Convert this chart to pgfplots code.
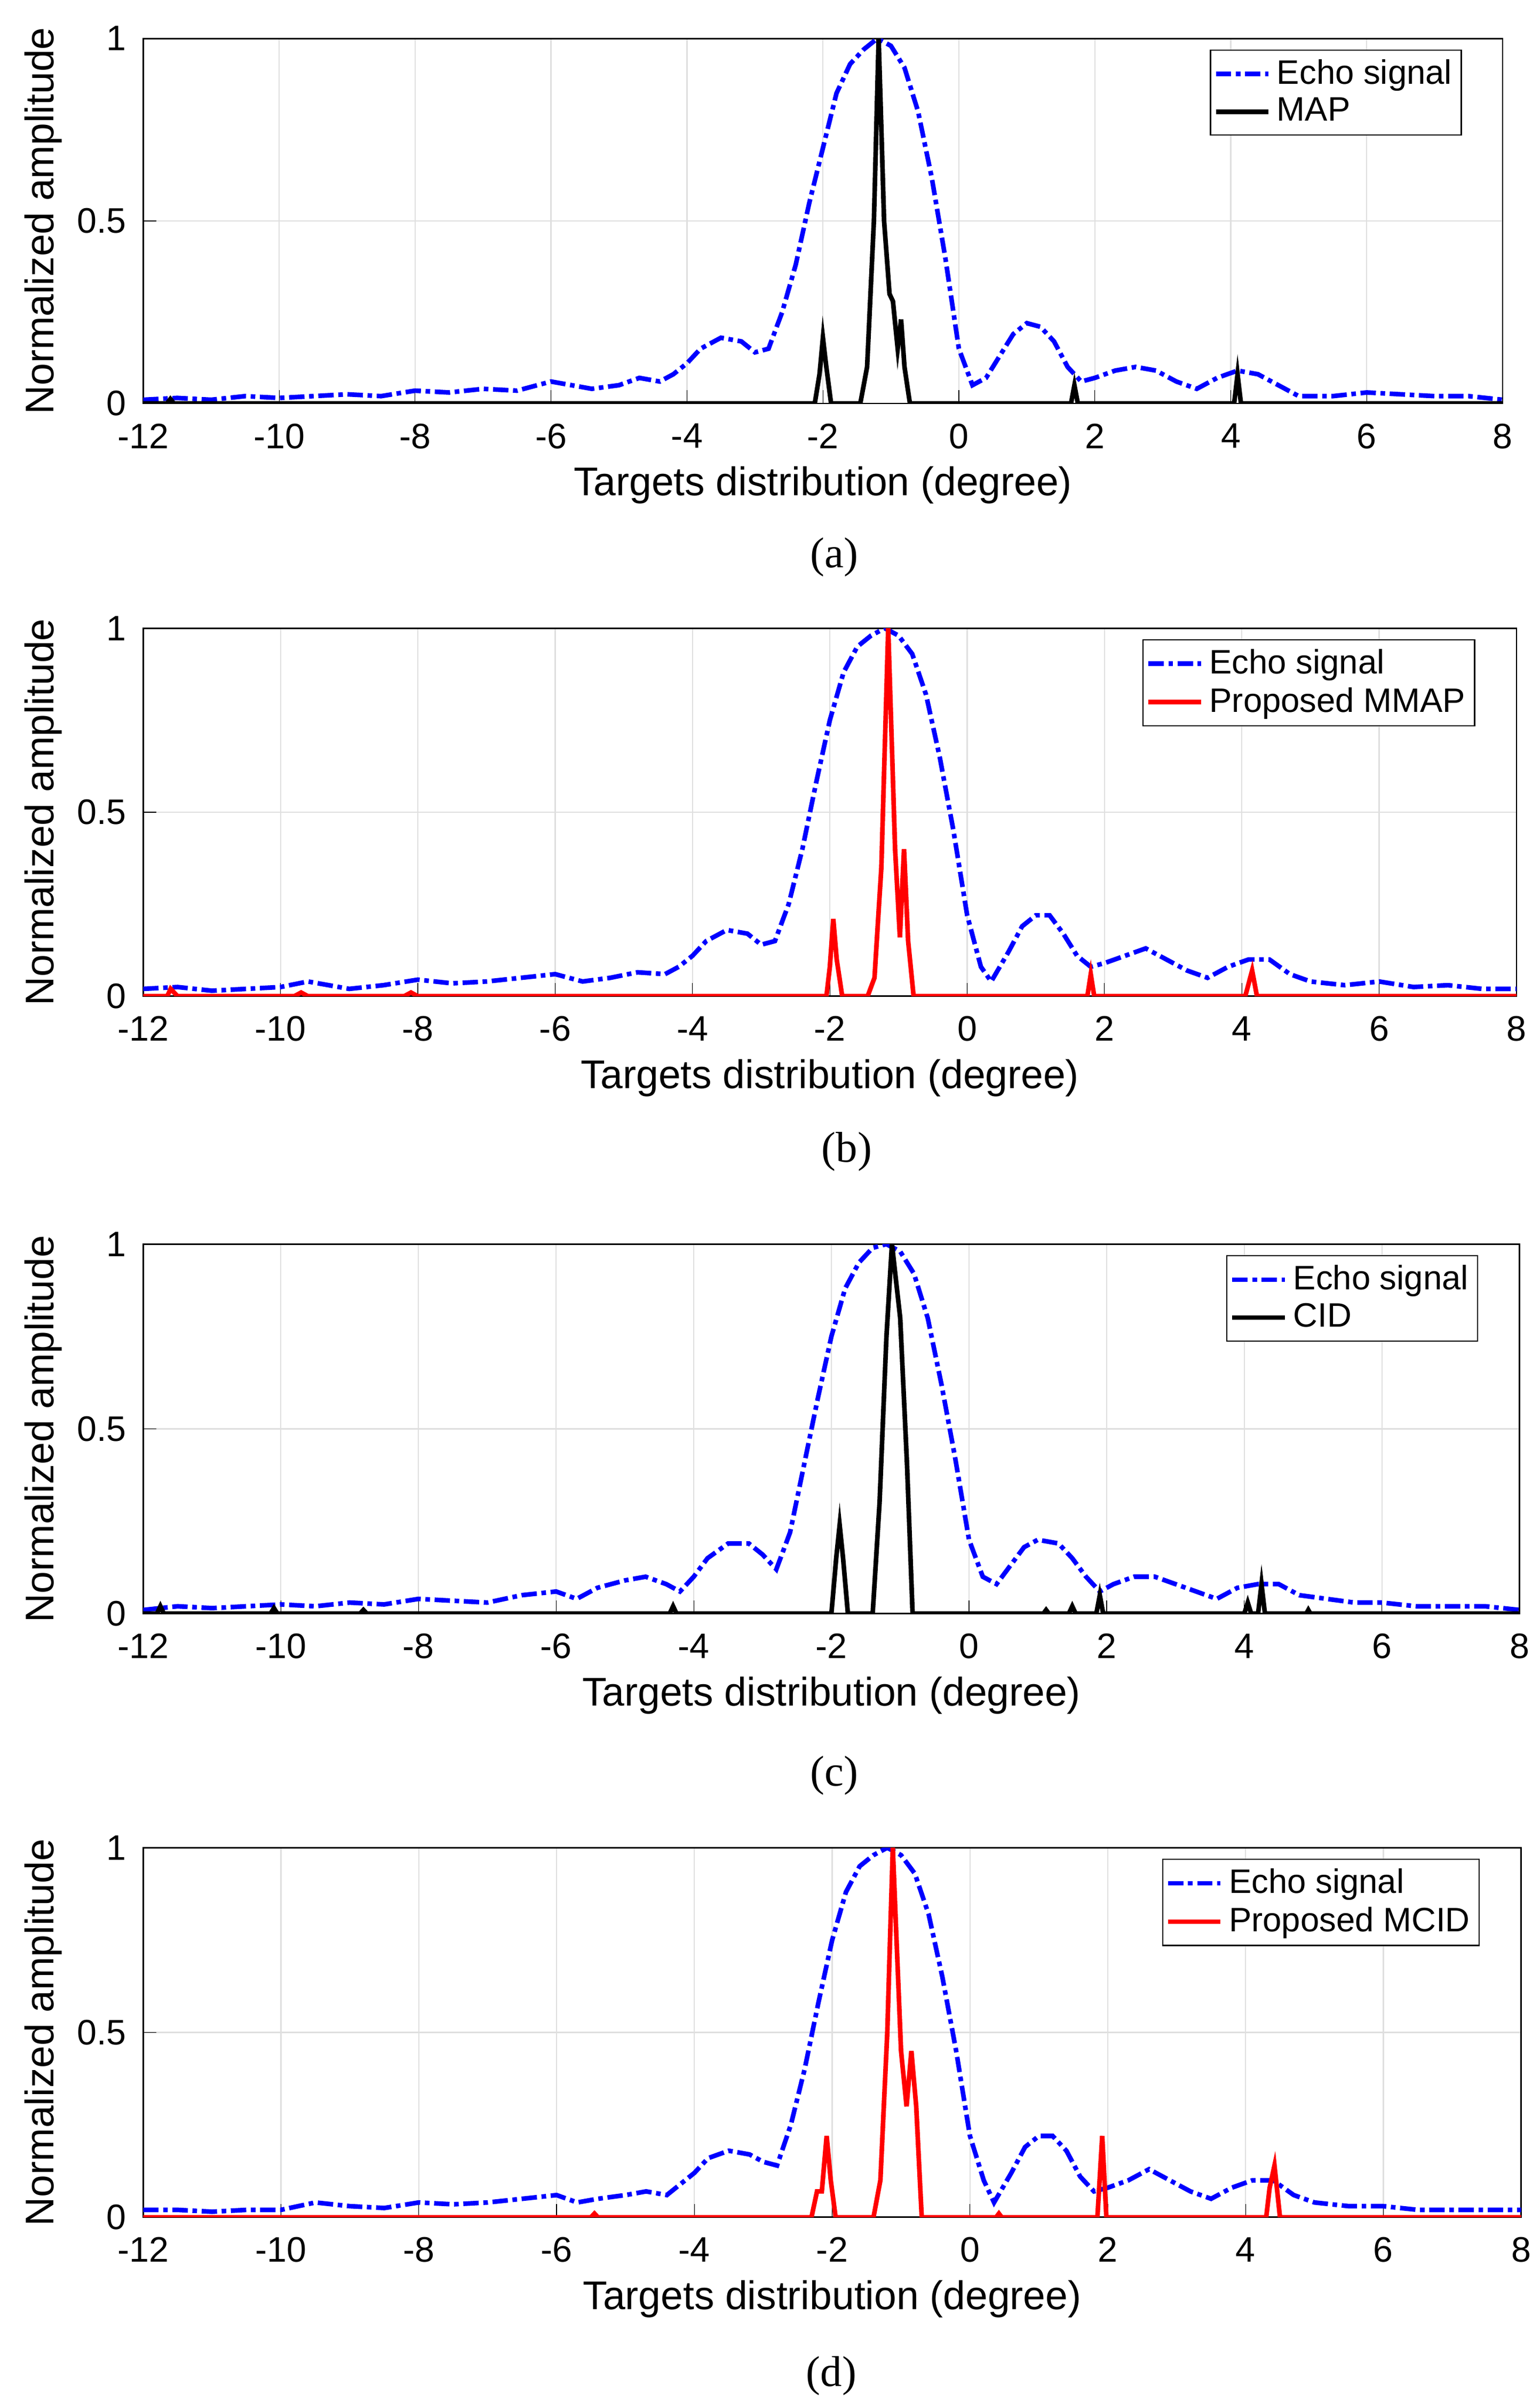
\documentclass[border=0pt]{standalone}
\usepackage{pgfplots}
\pgfplotsset{compat=1.18}
\usepackage{fontspec}
\setmainfont{Liberation Sans}
\newfontfamily\capfont{Liberation Serif}
\definecolor{eb}{rgb}{0,0,1}
\definecolor{rr}{rgb}{1,0,0}
\pgfplotsset{
 panel/.style={scale only axis, xmin=-12,xmax=8,ymin=0,ymax=1,
  xtick={-12,-10,...,8}, ytick={0,0.5,1}, grid=major,
  major grid style={gray!25,line width=0.4pt},
  tick style={black}, tick align=inside, tick pos=left,
  /pgf/number format/assume math mode=true,
  ticklabel style={font=\fontsize{11.5}{13}\selectfont},
  xticklabel style={yshift=-3pt}, yticklabel style={xshift=-2pt},
  label style={font=\fontsize{13}{15}\selectfont},
  xlabel={Targets distribution (degree)}, ylabel={Normalized amplitude},
  xlabel style={yshift=1pt}, ylabel style={yshift=-2pt},
  legend pos=north east, legend cell align=left,
  legend style={font=\fontsize{11}{12}\selectfont, inner sep=1pt, row sep=-1pt},
  axis line style={black, line width=0.5pt}},
 echo/.style={eb, line width=1.5pt, dash pattern=on 5pt off 1.5pt on 1.5pt off 1.5pt},
 res/.style={line width=1.5pt}
}
\pgfplotstableread{
x y
-12 0.01
-11.5 0.015
-11 0.01
-10.5 0.02
-10 0.015
-9.5 0.02
-9 0.025
-8.5 0.02
-8 0.035
-7.5 0.03
-7 0.04
-6.5 0.035
-6 0.06
-5.7 0.05
-5.4 0.04
-5 0.05
-4.7 0.07
-4.4 0.06
-4.2 0.08
-4 0.11
-3.8 0.15
-3.5 0.18
-3.2 0.17
-3 0.14
-2.8 0.15
-2.6 0.25
-2.4 0.38
-2.2 0.55
-2 0.7
-1.8 0.85
-1.6 0.93
-1.4 0.97
-1.2 1.0
-1.0 0.98
-0.8 0.92
-0.6 0.8
-0.4 0.62
-0.2 0.4
0 0.15
0.2 0.05
0.4 0.07
0.6 0.13
0.8 0.19
1.0 0.22
1.2 0.21
1.4 0.17
1.6 0.1
1.8 0.06
2.0 0.07
2.3 0.09
2.6 0.10
2.9 0.09
3.2 0.06
3.5 0.04
3.8 0.07
4.1 0.09
4.4 0.08
4.7 0.05
5 0.02
5.5 0.02
6 0.03
6.5 0.025
7 0.02
7.5 0.02
8 0.01
}\echoA
\begin{document}
\begin{tikzpicture}
\useasboundingbox (0,0) rectangle (500pt,-780pt);
% (a)
\begin{axis}[panel, at={(46.5pt,-12.5pt)}, anchor=north west, width=441.5pt, height=118.5pt]
\addplot[echo] table {\echoA};
\addplot[res, black] coordinates {(-12,0)(-11.65,0)(-11.6,0.012)(-11.55,0)(-2.12,0)(-2.05,0.08)(-2,0.18)(-1.95,0.1)(-1.88,0)(-1.45,0)(-1.35,0.1)(-1.25,0.5)(-1.18,1.0)(-1.1,0.5)(-1.02,0.3)(-0.97,0.28)(-0.9,0.15)(-0.85,0.23)(-0.8,0.1)(-0.72,0)(1.65,0)(1.7,0.05)(1.75,0)(4.05,0)(4.1,0.08)(4.15,0)(8,0)};
\legend{Echo signal, MAP}
\end{axis}
\node[font=\capfont\fontsize{14}{16}\selectfont] at (271pt,-181pt) {(a)};
% (b)
\begin{axis}[panel, at={(46.5pt,-204pt)}, anchor=north west, width=446pt, height=119.5pt]
\addplot[echo] coordinates {(-12,0.02)(-11.5,0.025)(-11,0.015)(-10.5,0.02)(-10,0.025)(-9.6,0.04)(-9,0.02)(-8.5,0.03)(-8,0.045)(-7.5,0.035)(-7,0.04)(-6.5,0.05)(-6,0.06)(-5.6,0.04)(-5.2,0.05)(-4.8,0.065)(-4.4,0.06)(-4.2,0.08)(-4,0.11)(-3.8,0.15)(-3.5,0.18)(-3.2,0.17)(-3,0.14)(-2.8,0.15)(-2.6,0.25)(-2.4,0.4)(-2.2,0.58)(-2,0.75)(-1.8,0.88)(-1.6,0.95)(-1.4,0.98)(-1.2,1.0)(-1.0,0.98)(-0.8,0.93)(-0.6,0.82)(-0.4,0.65)(-0.2,0.45)(0,0.22)(0.2,0.08)(0.35,0.04)(0.6,0.12)(0.8,0.19)(1.0,0.22)(1.2,0.22)(1.4,0.17)(1.6,0.11)(1.8,0.08)(2.0,0.09)(2.3,0.11)(2.6,0.13)(2.9,0.1)(3.2,0.07)(3.5,0.05)(3.8,0.08)(4.1,0.1)(4.4,0.1)(4.7,0.06)(5,0.04)(5.5,0.03)(6,0.04)(6.5,0.025)(7,0.03)(7.5,0.02)(8,0.02)};
\addplot[res, rr] coordinates {(-12,0)(-11.65,0)(-11.6,0.02)(-11.5,0)(-9.8,0)(-9.7,0.01)(-9.6,0)(-8.2,0)(-8.1,0.01)(-8.0,0)(-2.05,0)(-2.0,0.08)(-1.95,0.21)(-1.9,0.1)(-1.82,0)(-1.45,0)(-1.35,0.05)(-1.25,0.35)(-1.15,1.0)(-1.05,0.4)(-0.98,0.16)(-0.92,0.4)(-0.86,0.15)(-0.78,0)(1.75,0)(1.8,0.06)(1.85,0)(4.05,0)(4.15,0.07)(4.22,0)(8,0)};
\legend{Echo signal, Proposed MMAP}
\end{axis}
\node[font=\capfont\fontsize{14}{16}\selectfont] at (275pt,-374pt) {(b)};
% (c)
\begin{axis}[panel, at={(46.5pt,-404pt)}, anchor=north west, width=447pt, height=120pt]
\addplot[echo] coordinates {(-12,0.01)(-11.5,0.02)(-11,0.015)(-10.5,0.02)(-10,0.025)(-9.5,0.02)(-9,0.03)(-8.5,0.025)(-8,0.04)(-7.5,0.035)(-7,0.03)(-6.5,0.05)(-6,0.06)(-5.7,0.04)(-5.4,0.07)(-5,0.09)(-4.7,0.1)(-4.4,0.08)(-4.2,0.06)(-4,0.1)(-3.8,0.15)(-3.5,0.19)(-3.2,0.19)(-3,0.16)(-2.8,0.12)(-2.6,0.22)(-2.4,0.4)(-2.2,0.58)(-2,0.75)(-1.8,0.88)(-1.6,0.95)(-1.4,0.99)(-1.2,1.0)(-1.0,0.98)(-0.8,0.92)(-0.6,0.8)(-0.4,0.62)(-0.2,0.42)(0,0.2)(0.2,0.1)(0.4,0.08)(0.6,0.13)(0.8,0.18)(1.0,0.2)(1.3,0.19)(1.5,0.15)(1.7,0.1)(1.9,0.06)(2.1,0.08)(2.4,0.1)(2.7,0.1)(3,0.08)(3.3,0.06)(3.6,0.04)(3.9,0.07)(4.2,0.08)(4.5,0.08)(4.8,0.05)(5.2,0.04)(5.6,0.03)(6,0.03)(6.5,0.02)(7,0.02)(7.5,0.02)(8,0.01)};
\addplot[res, black] coordinates {(-12,0)(-11.8,0)(-11.75,0.02)(-11.7,0)(-10.15,0)(-10.1,0.015)(-10.05,0)(-8.85,0)(-8.8,0.01)(-8.75,0)(-4.35,0)(-4.3,0.02)(-4.25,0)(-2.0,0)(-1.93,0.15)(-1.88,0.24)(-1.83,0.15)(-1.76,0)(-1.4,0)(-1.3,0.3)(-1.2,0.75)(-1.12,1.0)(-1.0,0.8)(-0.9,0.4)(-0.82,0)(1.08,0)(1.12,0.01)(1.16,0)(1.45,0)(1.5,0.02)(1.55,0)(1.85,0)(1.9,0.05)(1.95,0)(4.0,0)(4.05,0.03)(4.1,0)(4.2,0)(4.25,0.08)(4.3,0)(4.9,0)(4.93,0.01)(4.96,0)(8,0)};
\legend{Echo signal, CID}
\end{axis}
\node[font=\capfont\fontsize{14}{16}\selectfont] at (271pt,-576.5pt) {(c)};
% (d)
\begin{axis}[panel, at={(46.5pt,-600pt)}, anchor=north west, width=447.5pt, height=120pt]
\addplot[echo] coordinates {(-12,0.02)(-11.5,0.02)(-11,0.015)(-10.5,0.02)(-10,0.02)(-9.5,0.04)(-9,0.03)(-8.5,0.025)(-8,0.04)(-7.5,0.035)(-7,0.04)(-6.5,0.05)(-6,0.06)(-5.7,0.04)(-5.4,0.05)(-5,0.06)(-4.7,0.07)(-4.4,0.06)(-4.2,0.09)(-4,0.12)(-3.8,0.16)(-3.5,0.18)(-3.2,0.17)(-3,0.15)(-2.8,0.14)(-2.6,0.25)(-2.4,0.4)(-2.2,0.58)(-2,0.75)(-1.8,0.88)(-1.6,0.95)(-1.4,0.98)(-1.2,1.0)(-1.0,0.98)(-0.8,0.93)(-0.6,0.82)(-0.4,0.65)(-0.2,0.45)(0,0.22)(0.2,0.1)(0.35,0.04)(0.6,0.12)(0.8,0.19)(1.0,0.22)(1.2,0.22)(1.4,0.18)(1.6,0.11)(1.8,0.07)(2.0,0.08)(2.3,0.1)(2.6,0.13)(2.9,0.1)(3.2,0.07)(3.5,0.05)(3.8,0.08)(4.1,0.1)(4.4,0.1)(4.7,0.06)(5,0.04)(5.5,0.03)(6,0.03)(6.5,0.02)(7,0.02)(7.5,0.02)(8,0.02)};
\addplot[res, rr] coordinates {(-12,0)(-5.5,0)(-5.45,0.01)(-5.4,0)(-2.3,0)(-2.22,0.07)(-2.15,0.07)(-2.08,0.22)(-2.02,0.1)(-1.95,0)(-1.4,0)(-1.3,0.1)(-1.2,0.5)(-1.12,1.0)(-1.0,0.45)(-0.92,0.3)(-0.85,0.45)(-0.78,0.3)(-0.7,0)(0.38,0)(0.42,0.01)(0.46,0)(1.85,0)(1.92,0.22)(1.98,0)(4.3,0)(4.35,0.08)(4.42,0.14)(4.5,0)(8,0)};
\legend{Echo signal, Proposed MCID}
\end{axis}
\node[font=\capfont\fontsize{14}{16}\selectfont] at (270pt,-771.5pt) {(d)};
\end{tikzpicture}
\end{document}
